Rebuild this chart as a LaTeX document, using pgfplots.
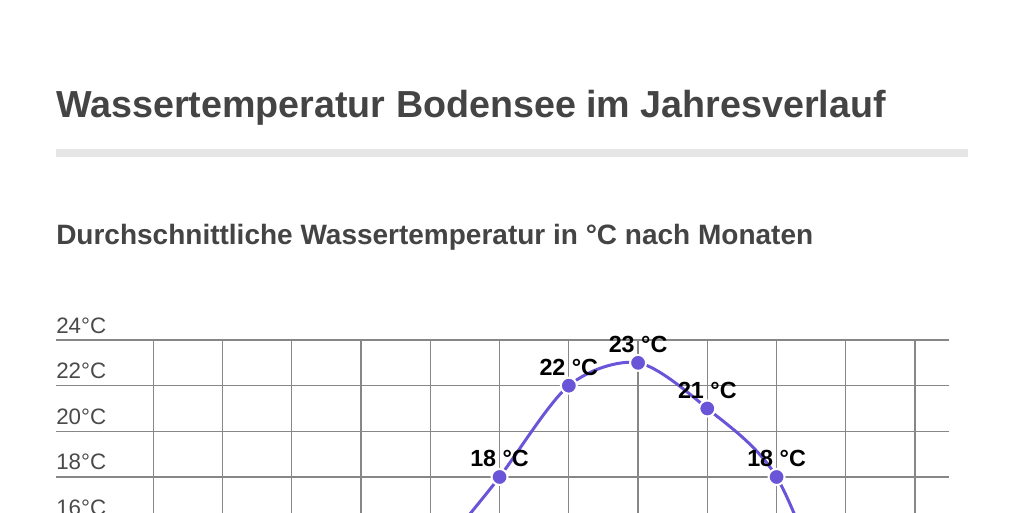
\documentclass[border=0pt]{standalone}
\usepackage{pgfplots}
\pgfplotsset{compat=1.18}
\usepackage{fontspec}
\setmainfont{Liberation Sans}
\definecolor{titlegray}{HTML}{444444}
\definecolor{tickgray}{HTML}{4A4A4A}
\definecolor{rulegray}{HTML}{E6E6E6}
\definecolor{gridgray}{HTML}{878787}
\definecolor{lineviolet}{HTML}{6A55D8}

% 1 px of the 1024x512 reference = 0.75pt; page = 768pt x 384pt
\begin{document}
\begin{tikzpicture}
\path[use as bounding box] (0pt,0pt) rectangle (768pt,384pt);
\clip (0pt,0pt) rectangle (768pt,384pt);
% Titel
\node[anchor=base west, inner sep=0pt, text=titlegray,
  font=\fontsize{28.25}{33}\selectfont\bfseries] at (42pt,296.25pt)
  {Wassertemperatur Bodensee im Jahresverlauf};
\fill[rulegray] (42pt,266.25pt) rectangle (726pt,272.25pt);
\node[anchor=base west, inner sep=0pt, text=titlegray,
  font=\fontsize{21}{25}\selectfont\bfseries] at (42pt,201pt)
  {Durchschnittliche Wassertemperatur in °C nach Monaten};
\begin{axis}[
    at={(42pt,129pt)}, anchor=north west,
    scale only axis, width=669.75pt, height=171.2pt,
    xmin=-1.405, xmax=11.49, ymin=14, ymax=24,
    clip=false,
    axis line style={draw=none},
    major tick length=0pt,
    xtick={0,...,11}, xticklabel=\empty,
    ytick={14,16,...,24},
    /pgf/number format/assume math mode=true,
    yticklabel={\pgfmathprintnumber{\tick}°C},
    yticklabel style={anchor=base west, inner sep=0pt, yshift=5.25pt,
      text=tickgray, font=\fontsize{16.75}{19}\selectfont},
    grid=major,
    major grid style={gridgray, line width=1pt},
    nodes near coords={\pgfmathprintnumber{\pgfplotspointmeta}~°C},
    every node near coord/.append style={anchor=base, inner sep=0pt,
      yshift=7.5pt, text=black, font=\fontsize{17.5}{20}\selectfont\bfseries},
]
\addplot+[smooth, lineviolet, line width=2.25pt,
  mark=*, mark size=6pt,
  mark options={fill=lineviolet, draw=white, line width=1.5pt}]
coordinates {
  (0,5) (1,4) (2,5) (3,8) (4,14) (5,18)
  (6,22) (7,23) (8,21) (9,18) (10,11) (11,7)
};
\end{axis}
\end{tikzpicture}
\end{document}
